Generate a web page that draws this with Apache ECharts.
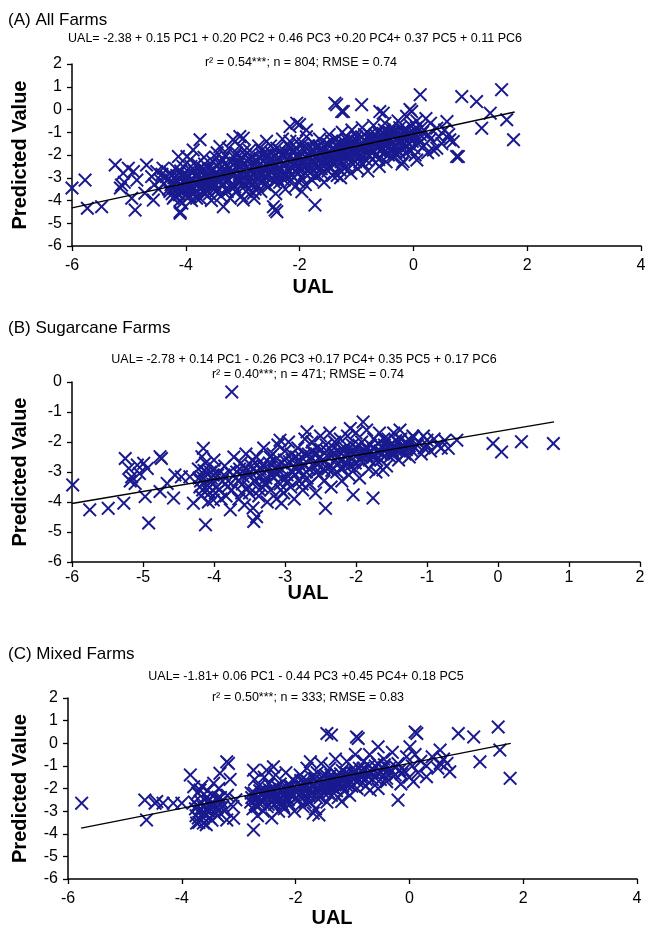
<!DOCTYPE html>
<html>
<head>
<meta charset="utf-8">
<script src="https://cdn.jsdelivr.net/npm/echarts@6/dist/echarts.min.js"></script>
<style>
  html, body { margin: 0; padding: 0; background: #fff; }
  #chart { width: 651px; height: 928px; }
</style>
</head>
<body>
<div id="chart"></div>
<script>
// (A) all farms: observed UAL vs predicted value
const allFarms = [
  // outlying points
  [-6.0,-3.45],[-5.77,-3.1],[-5.73,-4.34],[-5.48,-4.27],[-5.24,-2.44],[-5.1,-2.8],[-5.13,-3.32],[-5.15,-3.45],[-5.08,-3.2],
  [-5.01,-2.58],[-4.92,-2.73],[-4.86,-3.1],[-4.95,-3.9],[-4.89,-4.42],[-4.69,-2.44],[-4.72,-3.68],[-4.6,-2.95],[-4.57,-3.98],
  [-4.51,-2.73],[-4.45,-3.1],[-4.4,-2.58],[-4.34,-2.95],[-4.55,-3.3],[-4.48,-3.5],[-4.42,-2.85],[-4.38,-3.25],
  [-4.1,-4.56],[-4.07,-4.12],[-3.87,-1.78],[-3.75,-1.33],[-3.98,-2.07],[-3.4,-1.63],[-3.17,-1.33],[-2.99,-1.26],
  [-3.34,-4.27],[-2.99,-3.98],[-2.81,-3.68],[-2.46,-4.27],[-2.4,-4.49],[-2.0,-0.66],[-1.88,-0.9],[-1.96,-3.61],
  [-1.73,-4.2],[-2.17,-0.75],[0.12,0.65],[0.85,0.57],[-1.38,0.28],[-0.91,0.21],[-1.26,-0.09],[-0.53,-0.16],
  [-0.03,-0.09],[-2.05,-0.6],[-3.05,-1.19],[-4.13,-2.07],[-4.1,-4.49],[-2.43,-4.42],[0.76,-2.07],[-0.18,-2.29],
  [0.06,-2.22],[0.64,-1.33],[0.41,-1.7],[1.55,0.87],[1.11,0.35],[1.35,-0.16],[1.2,-0.82],[1.64,-0.45],[1.76,-1.33],
  [0.79,-2.07],[0.7,-1.41],[0.59,-0.53],[0.41,-0.82],[0.35,-1.78],[-0.06,0.0],[-0.59,-0.09],[-1.35,0.21],[-1.23,-0.09],
  [-1.29,-2.66],[0.45,-1.2],[0.55,-0.9],[0.62,-1.1],[0.5,-1.5],[0.3,-1.3],[0.25,-1.9],
  // dense core
  [-4.32,-3.1],[-4.28,-3.6],[-4.25,-2.9],[-4.22,-3.9],[-4.2,-3.3],[-4.18,-2.6],[-4.15,-3.7],[-4.12,-3.0],[-4.1,-4.0],
  [-4.08,-3.4],[-4.05,-2.5],[-4.02,-3.2],[-4.0,-3.8],
  [-3.97,-2.9],[-3.95,-3.5],[-3.92,-2.2],[-3.9,-4.0],[-3.88,-3.1],[-3.85,-2.7],[-3.82,-3.6],[-3.8,-2.4],[-3.78,-3.3],
  [-3.75,-3.9],[-3.72,-2.8],[-3.7,-3.4],[-3.68,-2.1],[-3.65,-3.7],[-3.62,-3.0],[-3.6,-2.6],
  [-3.57,-3.3],[-3.55,-4.0],[-3.52,-2.3],[-3.5,-2.9],[-3.48,-3.6],[-3.45,-1.9],[-3.42,-3.2],[-3.4,-2.6],[-3.38,-3.8],
  [-3.35,-2.2],[-3.32,-3.0],[-3.3,-3.5],[-3.28,-2.5],[-3.25,-1.7],[-3.22,-3.9],[-3.2,-2.8],
  [-3.17,-3.3],[-3.15,-2.1],[-3.12,-3.6],[-3.1,-2.6],[-3.08,-3.0],[-3.05,-1.6],[-3.02,-3.8],[-3.0,-2.4],[-2.98,-3.2],
  [-2.95,-2.0],[-2.92,-2.8],[-2.9,-3.5],[-2.88,-1.8],[-2.85,-3.0],[-2.82,-2.5],[-2.8,-3.9],
  [-2.77,-2.2],[-2.75,-3.3],[-2.72,-1.6],[-2.7,-2.8],[-2.68,-3.6],[-2.65,-2.0],[-2.62,-3.1],[-2.6,-2.4],[-2.58,-1.4],
  [-2.55,-3.4],[-2.52,-2.7],[-2.5,-1.9],[-2.48,-3.0],[-2.45,-2.3],[-2.42,-3.7],[-2.4,-1.7],
  [-2.37,-2.6],[-2.35,-3.2],[-2.32,-2.0],[-2.3,-1.3],[-2.28,-2.9],[-2.25,-3.5],[-2.22,-2.2],[-2.2,-1.6],[-2.18,-2.7],
  [-2.15,-3.1],[-2.12,-1.9],[-2.1,-2.4],[-2.08,-3.4],[-2.05,-1.4],[-2.02,-2.8],[-2.0,-2.1],
  [-1.97,-3.0],[-1.95,-1.7],[-1.92,-2.5],[-1.9,-3.3],[-1.88,-1.2],[-1.85,-2.2],[-1.82,-2.8],[-1.8,-1.9],[-1.78,-3.1],
  [-1.75,-1.5],[-1.72,-2.4],[-1.7,-2.0],[-1.68,-2.9],[-1.65,-1.3],[-1.62,-2.6],[-1.6,-1.8],
  [-1.57,-3.2],[-1.55,-2.2],[-1.52,-1.5],[-1.5,-2.7],[-1.48,-1.1],[-1.45,-2.0],[-1.42,-2.9],[-1.4,-1.7],[-1.38,-2.4],
  [-1.35,-1.3],[-1.32,-2.6],[-1.3,-1.9],[-1.28,-3.0],[-1.25,-1.0],[-1.22,-2.2],[-1.2,-1.6],
  [-1.17,-2.5],[-1.15,-1.4],[-1.12,-2.0],[-1.1,-2.8],[-1.08,-0.9],[-1.05,-1.8],[-1.02,-2.3],[-1.0,-1.2],[-0.98,-2.6],
  [-0.95,-1.6],[-0.92,-2.0],[-0.9,-0.8],[-0.88,-2.4],[-0.85,-1.4],[-0.82,-1.9],[-0.8,-2.7],
  [-0.77,-1.1],[-0.75,-1.7],[-0.72,-2.2],[-0.7,-0.7],[-0.68,-1.4],[-0.65,-2.0],[-0.62,-1.0],[-0.6,-2.5],[-0.58,-1.6],
  [-0.55,-1.2],[-0.52,-1.9],[-0.5,-0.6],[-0.48,-2.3],[-0.45,-1.4],[-0.42,-1.0],[-0.4,-1.8],
  [-0.37,-0.8],[-0.35,-2.1],[-0.32,-1.3],[-0.3,-1.6],[-0.27,-0.5],[-0.25,-1.9],[-0.22,-1.1],[-0.2,-2.4],[-0.17,-0.9],
  [-0.15,-1.5],[-0.12,-0.3],[-0.1,-1.2],[-0.07,-1.8],[-0.05,-0.7],[-0.02,-1.4],[0.0,-1.0],[0.03,-2.0],[0.06,-0.5],
  [0.1,-1.3],[0.14,-0.8],[0.18,-1.6],[0.22,-0.4],[0.26,-1.1],[0.3,-0.6],
  [-4.3,-3.5],[-4.27,-2.8],[-4.23,-3.2],[-4.19,-3.8],[-4.16,-2.9],[-4.13,-3.5],[-4.09,-2.7],[-4.06,-3.6],[-4.03,-2.9],
  [-4.01,-3.5],[-3.96,-3.2],[-3.93,-3.8],[-3.91,-2.5],[-3.87,-3.4],[-3.84,-2.9],[-3.81,-3.9],[-3.77,-2.6],[-3.74,-3.1],
  [-3.71,-3.6],[-3.67,-2.4],[-3.64,-3.2],[-3.61,-2.8],[-3.58,-3.7],[-3.54,-2.7],[-3.51,-3.4],[-3.47,-2.1],[-3.44,-3.0],
  [-3.41,-2.4],[-3.37,-3.3],[-3.34,-2.8],[-3.31,-2.0],[-3.27,-3.6],[-3.24,-3.1],[-3.21,-2.3],[-3.18,-2.9],[-3.14,-3.4],
  [-3.11,-1.9],[-3.07,-2.4],[-3.04,-3.2],[-3.01,-2.7],[-2.97,-1.8],[-2.94,-3.6],[-2.91,-2.3],[-2.87,-3.2],[-2.84,-2.1],
  [-2.81,-2.8],[-2.78,-3.5],[-2.74,-2.5],[-2.71,-3.0],[-2.67,-1.8],[-2.64,-2.6],[-2.61,-3.3],[-2.57,-2.1],[-2.54,-2.9],
  [-2.51,-1.6],[-2.47,-2.5],[-2.44,-3.2],[-2.41,-2.0],[-2.38,-2.9],[-2.34,-1.8],[-2.31,-2.4],[-2.27,-3.1],[-2.24,-1.9],
  [-2.21,-2.6],[-2.17,-1.4],[-2.14,-2.9],[-2.11,-2.2],[-2.07,-1.7],[-2.04,-2.6],[-2.01,-3.2],[-1.98,-2.3],[-1.94,-1.5],
  [-1.91,-2.8],[-1.87,-2.0],[-1.84,-1.6],[-1.81,-2.5],[-1.77,-2.2],[-1.74,-2.9],[-1.71,-1.7],[-1.67,-2.3],[-1.64,-1.9],
  [-1.61,-2.8],[-1.58,-1.6],[-1.54,-2.4],[-1.51,-1.9],[-1.47,-2.5],[-1.44,-1.4],[-1.41,-2.2],[-1.37,-1.8],[-1.34,-2.9],
  [-1.31,-1.5],[-1.27,-2.3],[-1.24,-1.8],[-1.21,-2.6],[-1.18,-1.2],[-1.14,-2.2],[-1.11,-1.6],[-1.07,-2.4],[-1.04,-1.4],
  [-1.01,-2.0],[-0.97,-1.7],[-0.94,-2.3],[-0.91,-1.2],[-0.87,-1.8],[-0.84,-2.2],[-0.81,-1.5],[-0.78,-2.0],[-0.74,-1.3],
  [-0.71,-1.8],[-0.67,-1.1],[-0.64,-1.7],[-0.61,-2.2],[-0.57,-1.3],[-0.54,-1.7],[-0.51,-0.9],[-0.47,-1.6],[-0.44,-2.0],
  [-0.41,-1.3],[-0.38,-1.7],[-0.34,-1.0],[-0.31,-1.9],[-0.28,-1.3],[-0.24,-0.8],[-0.21,-1.6],[-0.18,-1.2],[-0.14,-1.9],
  [-0.11,-0.9],[-0.08,-1.5],[-0.04,-1.1],[0.01,-1.7],[0.05,-0.8],[0.12,-1.1],
  [-4.26,-3.3],[-4.24,-3.7],[-4.21,-3.0],[-4.17,-3.45],[-4.14,-3.15],[-4.11,-3.75],[-4.07,-2.95],[-4.04,-3.55],
  [-3.99,-3.05],[-3.94,-3.35],[-3.89,-2.75],[-3.86,-3.7],[-3.83,-3.2],[-3.79,-2.85],[-3.76,-3.45],[-3.73,-3.0],
  [-3.69,-2.6],[-3.66,-3.3],[-3.63,-3.55],[-3.59,-2.95],[-3.56,-3.15],[-3.53,-2.6],[-3.49,-3.25],[-3.46,-2.75],
  [-3.43,-3.5],[-3.39,-2.95],[-3.36,-2.5],[-3.33,-3.3],[-3.29,-2.75],[-3.26,-3.05],[-3.23,-2.55],[-3.19,-3.45],
  [-3.16,-2.75],[-3.13,-2.35],[-3.09,-3.15],[-3.06,-2.85],[-3.03,-2.2],[-2.99,-2.95],[-2.96,-3.35],[-2.93,-2.55],
  [-2.89,-2.2],[-2.86,-2.75],[-2.83,-3.25],[-2.79,-2.35],[-2.76,-2.65],[-2.73,-3.1],[-2.69,-2.15],[-2.66,-2.85],
  [-2.63,-2.5],[-2.59,-2.95],[-2.56,-1.95],[-2.53,-2.45],[-2.49,-2.75],[-2.46,-2.05],[-2.43,-2.55],[-2.39,-3.05],
  [-2.36,-2.25],[-2.33,-2.65],[-2.29,-2.05],[-2.26,-2.4],[-2.23,-2.85],[-2.19,-1.95],[-2.16,-2.3],[-2.13,-2.6],
  [-2.09,-1.8],[-2.06,-2.35],[-2.03,-2.05],[-1.99,-2.55],[-1.96,-1.95],[-1.93,-2.25],[-1.89,-1.7],[-1.86,-2.45],
  [-1.83,-2.05],[-1.79,-2.35],[-1.76,-1.75],[-1.73,-2.1],[-1.69,-2.55],[-1.66,-1.6],[-1.63,-2.2],[-1.59,-2.4],
  [-1.56,-1.85],[-1.53,-2.1],[-1.49,-1.55],[-1.46,-2.25],[-1.43,-1.75],[-1.39,-2.05],[-1.36,-1.55],[-1.33,-2.2],
  [-1.29,-1.7],[-1.26,-1.95],[-1.23,-1.4],[-1.19,-2.0],[-1.16,-1.75],[-1.13,-1.3],[-1.09,-1.95],[-1.06,-1.55],
  [-1.03,-1.75],[-0.99,-1.4],[-0.96,-2.05],[-0.93,-1.5],[-0.89,-1.65],[-0.86,-1.1],[-0.83,-1.7],[-0.79,-1.3],
  [-0.76,-1.55],[-0.73,-1.9],[-0.69,-1.2],[-0.66,-1.55],[-0.63,-1.3],[-0.59,-1.8],[-0.56,-1.45],[-0.53,-1.05],
  [-0.49,-1.5],[-0.46,-1.2],[-0.43,-1.65],[-0.39,-1.05],[-0.36,-1.45],[-0.33,-1.15],[-0.29,-1.75],[-0.26,-1.25],
  [-0.23,-1.45],[-0.19,-1.0],[-0.16,-1.3],[-0.13,-1.6],[-0.09,-1.05],[-0.06,-1.25],[0.02,-1.2],[0.08,-1.5],[0.16,-1.0]
];
const fitAll = [[-6, -4.32], [1.78, -0.11]];

// (B) sugarcane farms
const sugarcane = [
  [-5.99,-3.43],[-5.75,-4.26],[-5.49,-4.21],[-5.27,-4.04],[-5.25,-2.55],[-5.2,-2.88],[-5.16,-3.16],[-5.11,-3.38],
  [-5.08,-2.77],[-4.99,-2.71],[-4.94,-2.88],[-4.97,-3.82],[-4.92,-4.7],[-4.74,-2.55],[-4.76,-3.65],[-4.66,-3.38],
  [-4.57,-3.87],[-4.55,-3.1],[-4.46,-3.16],[-4.34,-3.16],[-4.29,-4.04],[-4.15,-2.21],[-4.17,-2.49],[-4.12,-4.76],
  [-3.75,-0.33],[-4.01,-3.93],[-3.44,-4.65],[-3.4,-4.49],[-3.77,-4.26],[-3.05,-4.04],[-3.07,-1.94],[-2.69,-1.66],
  [-2.43,-4.21],[-0.07,-2.05],[0.05,-2.33],[0.33,-1.99],[0.78,-2.05],[-0.58,-1.94],[-0.7,-2.21],[-2.04,-3.76],
  [-1.76,-3.87],[-1.9,-1.33],[-2.08,-1.55],[-1.38,-1.6],[-1.19,-1.83],[-1.0,-1.94],[-1.52,-2.49],[-1.62,-2.93],
  [-4.76,-2.49],[-5.18,-3.3],[-5.05,-3.05],
  [-4.22,-2.9],[-4.2,-3.5],[-4.18,-3.8],[-4.15,-3.2],[-4.12,-2.7],[-4.1,-3.6],[-4.08,-4.0],[-4.05,-3.0],[-4.02,-3.4],
  [-4.0,-2.6],[-3.98,-3.7],[-3.95,-3.1],[-3.9,-3.9],[-3.85,-2.8],[-3.8,-3.3],[-3.75,-3.6],[-3.72,-2.5],
  [-3.68,-3.0],[-3.65,-3.9],[-3.62,-2.7],[-3.6,-3.4],[-3.57,-4.1],[-3.55,-2.4],[-3.52,-3.1],[-3.5,-3.7],[-3.47,-2.8],
  [-3.45,-4.2],[-3.42,-3.3],[-3.4,-2.5],[-3.37,-3.8],[-3.35,-2.9],[-3.32,-3.5],[-3.3,-2.2],[-3.27,-3.2],[-3.25,-4.0],
  [-3.22,-2.7],[-3.2,-3.6],
  [-3.17,-2.4],[-3.15,-3.0],[-3.12,-3.9],[-3.1,-2.1],[-3.07,-3.4],[-3.05,-2.7],[-3.02,-3.7],[-3.0,-2.3],[-2.97,-3.1],
  [-2.95,-2.0],[-2.92,-3.5],[-2.9,-2.6],[-2.87,-3.9],[-2.85,-2.9],[-2.82,-2.2],[-2.8,-3.3],[-2.77,-2.5],[-2.75,-3.6],
  [-2.72,-1.9],[-2.7,-3.0],
  [-2.67,-2.4],[-2.65,-3.4],[-2.62,-2.0],[-2.6,-2.8],[-2.57,-3.7],[-2.55,-2.2],[-2.52,-3.1],[-2.5,-1.8],[-2.47,-2.6],
  [-2.45,-3.3],[-2.42,-2.1],[-2.4,-2.9],[-2.37,-1.7],[-2.35,-3.5],[-2.32,-2.4],[-2.3,-2.0],[-2.27,-3.0],[-2.25,-2.7],
  [-2.22,-1.9],[-2.2,-3.3],
  [-2.17,-2.3],[-2.15,-2.8],[-2.12,-1.8],[-2.1,-3.1],[-2.07,-2.5],[-2.05,-2.1],[-2.02,-2.9],[-2.0,-1.7],[-1.97,-2.4],
  [-1.95,-3.2],[-1.92,-2.0],[-1.9,-2.7],[-1.87,-2.3],[-1.85,-1.6],[-1.82,-2.9],[-1.8,-2.1],[-1.77,-2.5],[-1.75,-1.9],
  [-1.72,-3.0],[-1.7,-2.3],
  [-1.67,-1.7],[-1.65,-2.6],[-1.6,-2.1],[-1.57,-2.8],[-1.55,-1.9],[-1.5,-2.4],[-1.47,-1.7],[-1.45,-2.2],[-1.4,-2.6],
  [-1.37,-1.9],[-1.35,-2.3],[-1.3,-2.0],[-1.25,-2.5],[-1.2,-1.8],[-1.17,-2.2],[-1.12,-2.0],[-1.08,-2.4],[-1.05,-1.8],
  [-1.0,-2.1],[-0.95,-2.3],[-0.9,-1.9],[-0.85,-2.1],[-0.8,-2.2],[-0.75,-1.95],
  [-4.21,-3.2],[-4.16,-3.6],[-4.11,-3.0],[-4.06,-3.7],[-4.01,-3.1],[-3.96,-3.5],[-3.88,-3.3],[-3.83,-3.8],[-3.78,-3.0],
  [-3.66,-3.3],[-3.61,-3.7],[-3.56,-2.9],[-3.51,-3.5],[-3.46,-2.6],[-3.41,-3.0],[-3.36,-3.6],[-3.31,-2.8],[-3.26,-3.4],
  [-3.21,-2.5],[-3.16,-3.2],[-3.11,-2.8],[-3.06,-3.6],[-3.01,-2.6],[-2.96,-3.3],[-2.91,-2.4],[-2.86,-3.1],[-2.81,-2.7],
  [-2.76,-3.4],[-2.71,-2.4],[-2.66,-2.9],[-2.61,-2.3],[-2.56,-3.0],[-2.51,-2.5],[-2.46,-2.9],[-2.41,-2.3],[-2.36,-2.8],
  [-2.31,-2.2],[-2.26,-2.5],[-2.21,-2.9],[-2.16,-2.2],[-2.11,-2.6],[-2.06,-2.3],[-2.01,-2.7],[-1.96,-2.1],[-1.91,-2.5],
  [-1.86,-2.2],[-1.81,-2.6],[-1.76,-2.2],[-1.71,-2.6],[-1.66,-2.3],[-1.61,-1.9],[-1.56,-2.4],[-1.51,-2.1],[-1.46,-2.4],
  [-1.41,-2.0],[-1.36,-2.2],[-1.31,-2.4],[-1.26,-2.1],[-1.21,-2.3],
  [-4.19,-3.3],[-4.14,-2.95],[-4.09,-3.45],[-4.04,-3.2],[-3.99,-2.9],[-3.93,-3.6],[-3.86,-3.1],[-3.81,-3.5],[-3.69,-3.2],
  [-3.64,-2.9],[-3.59,-3.15],[-3.54,-3.55],[-3.49,-3.0],[-3.44,-3.3],[-3.39,-2.75],[-3.34,-3.15],[-3.29,-3.4],[-3.24,-2.9],
  [-3.19,-3.1],[-3.14,-2.6],[-3.09,-2.95],[-3.04,-3.2],[-2.99,-2.8],[-2.94,-2.65],[-2.89,-3.0],[-2.84,-2.5],[-2.79,-2.95],
  [-2.74,-2.75],[-2.69,-3.2],[-2.64,-2.6],[-2.59,-2.4],[-2.54,-2.75],[-2.49,-2.25],[-2.44,-2.65],[-2.39,-2.5],[-2.34,-2.95],
  [-2.29,-2.6],[-2.24,-2.3],[-2.19,-2.6],[-2.14,-2.4],[-2.09,-2.8],[-2.04,-2.4],[-1.99,-2.2],[-1.94,-2.6],[-1.89,-2.35],
  [-1.84,-2.45],[-1.79,-2.3],[-1.74,-2.45],[-1.69,-2.05],[-1.64,-2.4],[-1.59,-2.25],[-1.54,-2.15],[-1.49,-2.3],[-1.44,-1.95],
  [-1.39,-2.3],[-1.34,-2.1],[-1.29,-2.25],[-1.24,-1.95],[-1.14,-2.1],[-1.04,-2.2]
];
const fitSugarcane = [[-6, -4.05], [0.79, -1.33]];

// (C) mixed farms
const mixed = [
  [-5.76,-2.65],[-4.65,-2.51],[-4.62,-3.39],[-4.47,-2.65],[-4.33,-2.65],[-4.15,-2.65],[-4.0,-2.65],[-3.85,-1.4],
  [-3.79,-1.92],[-3.68,-2.07],[-3.74,-3.53],[-3.62,-3.53],[-3.56,-2.95],[-3.44,-1.77],[-3.33,-1.33],[-3.18,-0.89],
  [-3.09,-3.31],[-3.21,-3.39],[-3.33,-2.65],[-2.74,-3.83],[-2.74,-1.19],[-2.51,-1.19],[-2.39,-1.04],[-2.21,-2.8],
  [-1.74,-0.82],[-1.45,0.43],[-1.59,-3.17],[-1.37,0.36],[-0.9,0.21],[-0.55,-0.16],[0.13,0.43],[0.86,0.43],
  [1.13,0.28],[1.56,0.72],[1.59,-0.3],[1.24,-0.82],[1.77,-1.55],[-0.2,-2.51],[0.01,-0.16],[0.54,-0.3],[0.66,-0.89],
  [0.71,-1.26],[0.3,-1.48],[0.07,-1.7],[-0.17,-1.19],[0.54,-0.89],[-1.69,-3.09],[-1.19,-2.58],[-0.69,-2.07],
  [-0.4,-1.55],[-0.93,0.28],[0.1,0.5],[-3.21,-0.82],[-4.44,-2.58],
  [-3.78,-2.6],[-3.75,-3.2],[-3.72,-2.2],[-3.7,-3.5],[-3.67,-2.9],[-3.65,-1.9],[-3.62,-3.3],[-3.6,-2.5],[-3.57,-3.6],
  [-3.55,-2.1],[-3.52,-3.0],[-3.5,-2.7],[-3.47,-3.4],[-3.45,-2.3],[-3.4,-2.9],[-3.37,-3.2],[-3.35,-2.0],[-3.3,-2.6],
  [-3.25,-3.0],[-3.2,-2.3],[-3.15,-1.6],[-3.1,-2.8],[-3.05,-2.5],
  [-2.78,-2.2],[-2.75,-2.9],[-2.72,-1.6],[-2.7,-2.5],[-2.67,-3.2],[-2.65,-1.9],[-2.62,-2.7],[-2.6,-2.3],[-2.57,-3.0],
  [-2.55,-1.5],[-2.52,-2.1],[-2.5,-2.8],[-2.47,-1.8],[-2.45,-2.5],[-2.42,-3.3],[-2.4,-2.0],[-2.37,-2.7],[-2.35,-1.4],
  [-2.32,-2.3],[-2.3,-3.0],[-2.27,-1.8],[-2.25,-2.6],[-2.22,-2.1],[-2.2,-2.9],[-2.17,-1.3],[-2.15,-2.4],[-2.12,-1.9],
  [-2.1,-2.7],[-2.07,-2.2],[-2.05,-1.6],[-2.02,-3.0],
  [-1.98,-2.0],[-1.95,-2.5],[-1.92,-1.4],[-1.9,-2.2],[-1.87,-2.8],[-1.85,-1.7],[-1.82,-2.3],[-1.8,-1.1],[-1.77,-2.0],
  [-1.75,-2.6],[-1.72,-1.5],[-1.7,-2.2],[-1.67,-1.8],[-1.65,-2.9],[-1.62,-1.3],[-1.6,-2.0],[-1.57,-2.4],[-1.55,-0.9],
  [-1.52,-1.7],[-1.5,-2.2],[-1.47,-1.4],[-1.45,-2.6],[-1.42,-1.9],[-1.4,-1.1],[-1.37,-2.3],[-1.35,-1.6],[-1.32,-2.0],
  [-1.3,-0.7],[-1.27,-1.4],[-1.25,-2.4],[-1.22,-1.8],
  [-1.18,-1.2],[-1.15,-2.1],[-1.12,-1.5],[-1.1,-0.8],[-1.07,-1.8],[-1.05,-2.3],[-1.0,-1.3],[-0.97,-1.6],[-0.95,-0.5],
  [-0.92,-2.0],[-0.88,-1.1],[-0.85,-1.5],[-0.8,-0.8],[-0.77,-1.9],[-0.72,-1.3],[-0.7,-0.5],[-0.65,-1.6],[-0.6,-1.0],
  [-0.55,-2.0],[-0.5,-1.3],[-0.45,-0.7],[-0.4,-1.7],[-0.35,-1.1],[-0.3,-0.4],[-0.25,-1.4],[-0.2,-0.9],[-0.15,-1.8],
  [-0.1,-1.2],[-0.05,-0.6],[0.0,-1.5],[0.05,-1.0],[0.1,-0.5],[0.15,-1.3],[0.2,-0.8],[0.3,-1.0],[0.4,-0.6],[0.5,-1.1],
  [0.6,-0.7],
  [-3.76,-2.9],[-3.71,-3.3],[-3.66,-2.6],[-3.61,-3.1],[-3.56,-2.4],[-3.51,-3.3],[-3.46,-2.6],[-3.41,-3.1],[-3.36,-2.4],
  [-3.28,-2.8],[-2.79,-2.6],[-2.73,-2.2],[-2.68,-2.8],[-2.63,-2.1],[-2.58,-2.6],[-2.53,-2.3],[-2.48,-2.7],[-2.43,-2.2],
  [-2.38,-2.5],[-2.33,-1.9],[-2.28,-2.4],[-2.23,-2.7],[-2.18,-2.2],[-2.13,-2.5],[-2.08,-1.9],[-2.03,-2.3],[-1.97,-1.8],
  [-1.93,-2.3],[-1.88,-1.9],[-1.83,-2.6],[-1.78,-1.7],[-1.73,-2.2],[-1.68,-1.9],[-1.63,-2.4],[-1.58,-1.6],[-1.53,-2.0],
  [-1.48,-1.8],[-1.43,-2.2],[-1.38,-1.4],[-1.33,-1.8],[-1.28,-2.1],[-1.23,-1.6],[-1.17,-1.9],[-1.12,-1.3],[-1.06,-1.6],
  [-1.01,-1.9],[-0.96,-1.3],[-0.91,-1.7],[-0.86,-1.4],[-0.81,-1.1],[-0.76,-1.6],[-0.71,-1.0],[-0.66,-1.3],[-0.61,-1.5],
  [-0.56,-0.9],[-0.51,-1.6],[-0.46,-1.1],[-0.41,-1.3],
  [-3.73,-2.75],[-3.68,-3.0],[-3.63,-2.8],[-3.58,-3.2],[-3.53,-2.55],[-3.48,-2.9],[-3.43,-2.7],[-3.38,-2.85],[-3.32,-2.4],
  [-2.77,-2.4],[-2.71,-2.7],[-2.66,-2.35],[-2.61,-2.55],[-2.56,-2.15],[-2.51,-2.4],[-2.46,-2.05],[-2.41,-2.6],[-2.36,-2.15],
  [-2.31,-2.55],[-2.26,-2.05],[-2.21,-2.35],[-2.16,-1.95],[-2.11,-2.25],[-2.06,-2.0],[-2.01,-2.45],[-1.96,-2.1],[-1.91,-1.65],
  [-1.86,-2.05],[-1.81,-1.85],[-1.76,-2.3],[-1.71,-1.9],[-1.66,-1.55],[-1.61,-2.15],[-1.56,-1.8],[-1.51,-1.45],[-1.46,-2.0],
  [-1.41,-1.6],[-1.36,-1.95],[-1.31,-1.55],[-1.26,-1.75],[-1.21,-1.35],[-1.16,-1.6],[-1.11,-1.85],[-1.04,-1.45],[-0.99,-1.1],
  [-0.94,-1.5],[-0.84,-1.25],[-0.74,-1.45],[-0.64,-1.15],[-0.54,-1.35],[-0.44,-0.95],[-0.34,-1.3],[-0.24,-1.05],[-0.14,-1.35]
];
const fitMixed = [[-5.77, -3.75], [1.78, -0.01]];

const panelTitles = ['(A) All Farms', '(B) Sugarcane Farms', '(C) Mixed Farms'];
const equations = [
  'UAL= -2.38 + 0.15 PC1 + 0.20 PC2 + 0.46 PC3 +0.20 PC4+ 0.37 PC5 + 0.11 PC6',
  'UAL= -2.78 + 0.14 PC1 - 0.26 PC3 +0.17 PC4+ 0.35 PC5 + 0.17 PC6',
  'UAL= -1.81+ 0.06 PC1 - 0.44 PC3 +0.45 PC4+ 0.18 PC5'
];
const fitStats = [
  'r\u00b2 = 0.54***; n = 804; RMSE = 0.74',
  'r\u00b2 = 0.40***; n = 471; RMSE = 0.74',
  'r\u00b2 = 0.50***; n = 333; RMSE = 0.83'
];

const FONT = '"Liberation Sans", Arial, sans-serif';
const markColor = '#1a1a90';
// "x" glyph drawn as a thin filled outline
const crossPath = 'path://M0,1.2L1.2,0L6,4.8L10.8,0L12,1.2L7.2,6L12,10.8L10.8,12L6,7.2L1.2,12L0,10.8L4.8,6Z';

const chart = echarts.init(document.getElementById('chart'));

const grids = [
  { left: 72, top: 64, width: 569, height: 182 },
  { left: 72, top: 382, width: 568, height: 180 },
  { left: 68, top: 698, width: 569, height: 181 }
];
const xRanges = [[-6, 4, 2, 12], [-6, 2, 1, 8], [-6, 4, 2, 12]];
const yRanges = [[-6, 2, 1, 42], [-6, 0, 1, 42], [-6, 2, 1, 38]];

function axisCommon() {
  return {
    axisLine: { onZero: false, lineStyle: { color: '#000', width: 1.5 } },
    axisTick: { show: true, length: 5, lineStyle: { color: '#000', width: 1.3 } },
    splitLine: { show: false },
    axisLabel: { color: '#000', fontSize: 16, fontFamily: FONT }
  };
}

const xAxis = xRanges.map((r, i) => {
  const a = axisCommon();
  a.axisLabel.margin = r[3];
  return Object.assign(a, { gridIndex: i, type: 'value', position: 'bottom', min: r[0], max: r[1], interval: r[2] });
});
const yAxis = yRanges.map((r, i) => {
  const a = axisCommon();
  a.axisLabel.margin = 10;
  return Object.assign(a, {
    gridIndex: i, type: 'value', position: 'left', min: r[0], max: r[1], interval: r[2],
    name: 'Predicted Value', nameLocation: 'middle', nameGap: r[3],
    nameTextStyle: { color: '#000', fontSize: 20, fontWeight: 'bold', fontFamily: FONT }
  });
});

const datasets = [allFarms, sugarcane, mixed];
const fits = [fitAll, fitSugarcane, fitMixed];
const series = [];
datasets.forEach((d, i) => {
  series.push({
    type: 'scatter', xAxisIndex: i, yAxisIndex: i, data: d,
    symbol: crossPath, symbolSize: 14,
    itemStyle: { color: markColor, opacity: 1 },
    z: 2
  });
});
fits.forEach((f, i) => {
  series.push({
    type: 'line', xAxisIndex: i, yAxisIndex: i, data: f,
    symbol: 'none', lineStyle: { color: '#000', width: 1.3 }, z: 5
  });
});

function txt(x, y, text, size, align, bold) {
  return {
    type: 'text', x: x, y: y, silent: true,
    style: {
      text: text, fill: '#000', align: align, verticalAlign: 'middle',
      font: (bold ? 'bold ' : '') + size + 'px ' + FONT
    }
  };
}

const titleY = [20, 328, 654];
const eqPos = [[295, 39], [304, 360], [306, 677]];
const statPos = [[301, 63], [308, 375], [308, 698]];
const ualPos = [[313, 287], [308, 593], [332, 918]];
const graphics = [];
for (let i = 0; i < 3; i++) {
  graphics.push(txt(8, titleY[i], panelTitles[i], 17, 'left'));
  graphics.push(txt(eqPos[i][0], eqPos[i][1], equations[i], 12.5, 'center'));
  graphics.push(txt(statPos[i][0], statPos[i][1], fitStats[i], 12.5, 'center'));
  graphics.push(txt(ualPos[i][0], ualPos[i][1], 'UAL', 20, 'center', true));
}

chart.setOption({
  animation: false,
  backgroundColor: '#fff',
  grid: grids,
  xAxis: xAxis,
  yAxis: yAxis,
  series: series,
  graphic: graphics
});
</script>
</body>
</html>
